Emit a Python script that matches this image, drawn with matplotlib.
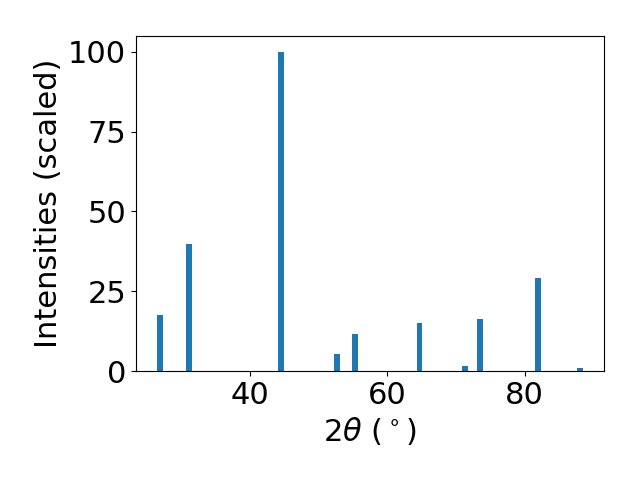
import matplotlib
matplotlib.use("Agg")
import matplotlib.pyplot as plt

# XRD peak positions and scaled intensities
two_theta = [26.88, 31.10, 44.52, 52.68, 55.26, 64.69, 71.34, 73.53, 81.94, 88.10]
intensities = [17.6, 39.8, 100.0, 5.3, 11.6, 15.1, 1.6, 16.3, 29.2, 0.9]

fig, ax = plt.subplots(figsize=(6.4, 4.8), dpi=100)
ax.bar(two_theta, intensities, width=0.8, color="#1f77b4")

ax.set_xlabel(r"$2\theta$ ($^\circ$)", fontsize=22)
ax.set_ylabel("Intensities (scaled)", fontsize=22)
ax.tick_params(labelsize=22)

fig.subplots_adjust(left=0.2125, right=0.944, top=0.925, bottom=0.227)
fig.savefig("out.png")
